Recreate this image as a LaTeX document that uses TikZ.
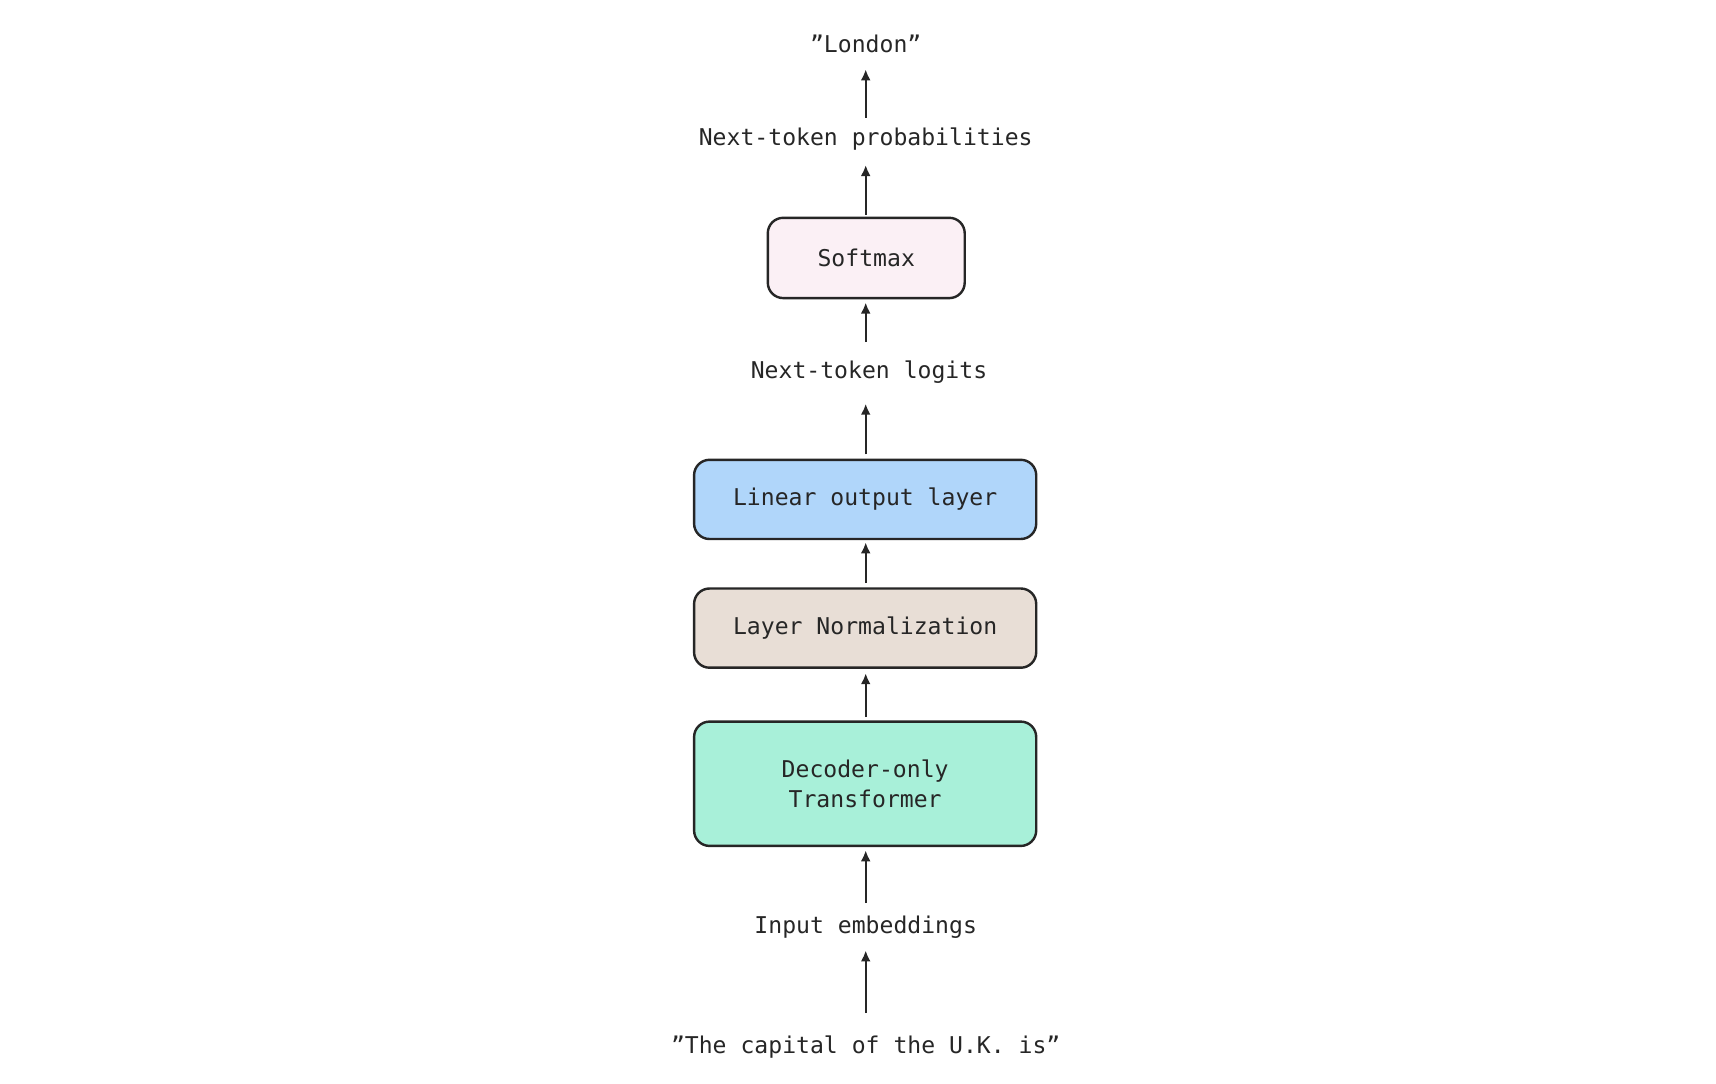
\documentclass[tikz,border=0pt]{standalone}
\usepackage{fontspec}
\setmainfont{DejaVu Sans Mono}
\usetikzlibrary{arrows.meta}
\begin{document}
\begin{tikzpicture}[x=1pt,y=-1pt,
  every node/.style={font=\fontsize{21}{27}\selectfont, text=black!85},
  box/.style={draw=black!85, line width=2.2pt, rounded corners=14pt, align=center, inner sep=0pt},
  lbl/.style={inner sep=2pt},
  arr/.style={draw=black!85, line width=2.2pt, -{Latex[length=10pt,width=9pt]}}]
\useasboundingbox (0,0) rectangle (1560,985);
\node[lbl] (lon) at (787,40) {"London"};
\node[lbl] (prob) at (787,126) {Next-token probabilities};
\node[box, fill={rgb,255:red,251;green,240;blue,245}, minimum width=179pt, minimum height=73pt] (soft) at (787.5,234.5) {Softmax};
\node[lbl] (logit) at (790,338) {Next-token logits};
\node[box, fill={rgb,255:red,176;green,214;blue,250}, minimum width=311pt, minimum height=72pt] (lin) at (786.5,454) {Linear output layer};
\node[box, fill={rgb,255:red,232;green,222;blue,214}, minimum width=311pt, minimum height=72pt] (ln) at (786.5,571) {Layer Normalization};
\node[box, fill={rgb,255:red,168;green,240;blue,217}, minimum width=311pt, minimum height=113pt] (dec) at (786.5,712.5) {Decoder-only\\Transformer};
\node[lbl] (emb) at (787,843) {Input embeddings};
\node[lbl] (inp) at (787,952) {"The capital of the U.K. is"};
\coordinate (a1s) at (787,107); \coordinate (a1e) at (787,63);
\coordinate (a2s) at (787,195); \coordinate (a2e) at (787,150);
\coordinate (a3s) at (787,311); \coordinate (a3e) at (787,275);
\coordinate (a4s) at (787,413); \coordinate (a4e) at (787,367);
\coordinate (a5s) at (787,530); \coordinate (a5e) at (787,493);
\coordinate (a6s) at (787,652); \coordinate (a6e) at (787,612);
\coordinate (a7s) at (787,821); \coordinate (a7e) at (787,773);
\coordinate (a8s) at (787,921); \coordinate (a8e) at (787,864);
\foreach \i in {1,...,8} {\draw[arr] (a\i s) -- (a\i e);}
\end{tikzpicture}
\end{document}
